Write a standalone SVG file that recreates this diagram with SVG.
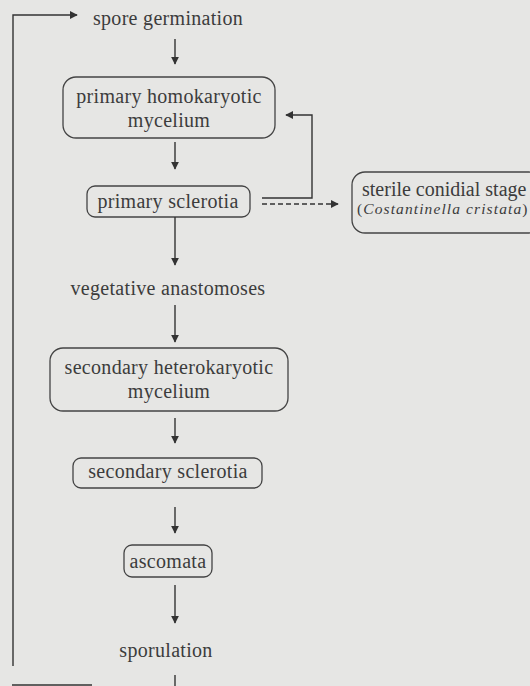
<svg xmlns="http://www.w3.org/2000/svg" width="530" height="686" viewBox="0 0 530 686">
<defs>
<marker id="ah" viewBox="0 0 10 10" refX="9" refY="5" markerWidth="8" markerHeight="8" markerUnits="userSpaceOnUse" orient="auto">
<path d="M0,0 L10,5 L0,10 Z" fill="#333"/>
</marker>
</defs>
<style>
text{font-family:"Liberation Serif","Times New Roman",serif;font-size:20px;fill:#3c3c3c;text-anchor:middle;letter-spacing:0.3px}
.box{fill:none;stroke:#444;stroke-width:1.3}
.ln{fill:none;stroke:#333;stroke-width:1.4}
.dash{stroke-dasharray:5,3}
.st{text-anchor:start;letter-spacing:0}
.it{font-style:italic;font-size:15.5px;letter-spacing:1.1px;text-anchor:start}
</style>
<rect width="530" height="686" fill="#e6e6e4"/>
<g id="spore-germination"><text x="168" y="25">spore germination</text></g>
<g id="primary-homokaryotic-mycelium">
<rect class="box" x="63" y="77" width="212" height="61" rx="13"/>
<text x="169" y="103">primary homokaryotic</text>
<text x="169" y="127">mycelium</text>
</g>
<g id="primary-sclerotia">
<rect class="box" x="87" y="186" width="163" height="31" rx="8"/>
<text x="168" y="208">primary sclerotia</text>
</g>
<g id="sterile-conidial-stage">
<rect class="box" x="352" y="172" width="190" height="61" rx="13"/>
<text x="362" y="196" class="st">sterile conidial stage</text>
<text x="357" y="214" class="it"><tspan font-style="normal">(</tspan>Costantinella cristata<tspan font-style="normal">)</tspan></text>
</g>
<g id="vegetative-anastomoses"><text x="168" y="295">vegetative anastomoses</text></g>
<g id="secondary-heterokaryotic-mycelium">
<rect class="box" x="50" y="348" width="238" height="63" rx="13"/>
<text x="169" y="374">secondary heterokaryotic</text>
<text x="169" y="398">mycelium</text>
</g>
<g id="secondary-sclerotia">
<rect class="box" x="73" y="458" width="189" height="30" rx="8"/>
<text x="168" y="478">secondary sclerotia</text>
</g>
<g id="ascomata">
<rect class="box" x="124" y="545" width="88" height="32" rx="8"/>
<text x="168" y="568">ascomata</text>
</g>
<g id="sporulation"><text x="166" y="657">sporulation</text></g>
<g id="connectors">
<line class="ln" x1="175" y1="39" x2="175" y2="64" marker-end="url(#ah)"/>
<line class="ln" x1="175" y1="142" x2="175" y2="169" marker-end="url(#ah)"/>
<line class="ln" x1="175" y1="217" x2="175" y2="265" marker-end="url(#ah)"/>
<line class="ln" x1="175" y1="305" x2="175" y2="342" marker-end="url(#ah)"/>
<line class="ln" x1="175" y1="418" x2="175" y2="443" marker-end="url(#ah)"/>
<line class="ln" x1="175" y1="507" x2="175" y2="533" marker-end="url(#ah)"/>
<line class="ln" x1="175" y1="585" x2="175" y2="623" marker-end="url(#ah)"/>
<polyline class="ln" points="262,198 312,198 312,115 286,115" marker-end="url(#ah)"/>
<line class="ln dash" x1="262" y1="204" x2="338" y2="204" marker-end="url(#ah)"/>
<line class="ln" x1="175" y1="675" x2="175" y2="686"/>
<line class="ln" x1="12" y1="685" x2="92" y2="685"/>
<polyline class="ln" points="13,666 13,15 77,15" marker-end="url(#ah)"/>
</g>
</svg>
